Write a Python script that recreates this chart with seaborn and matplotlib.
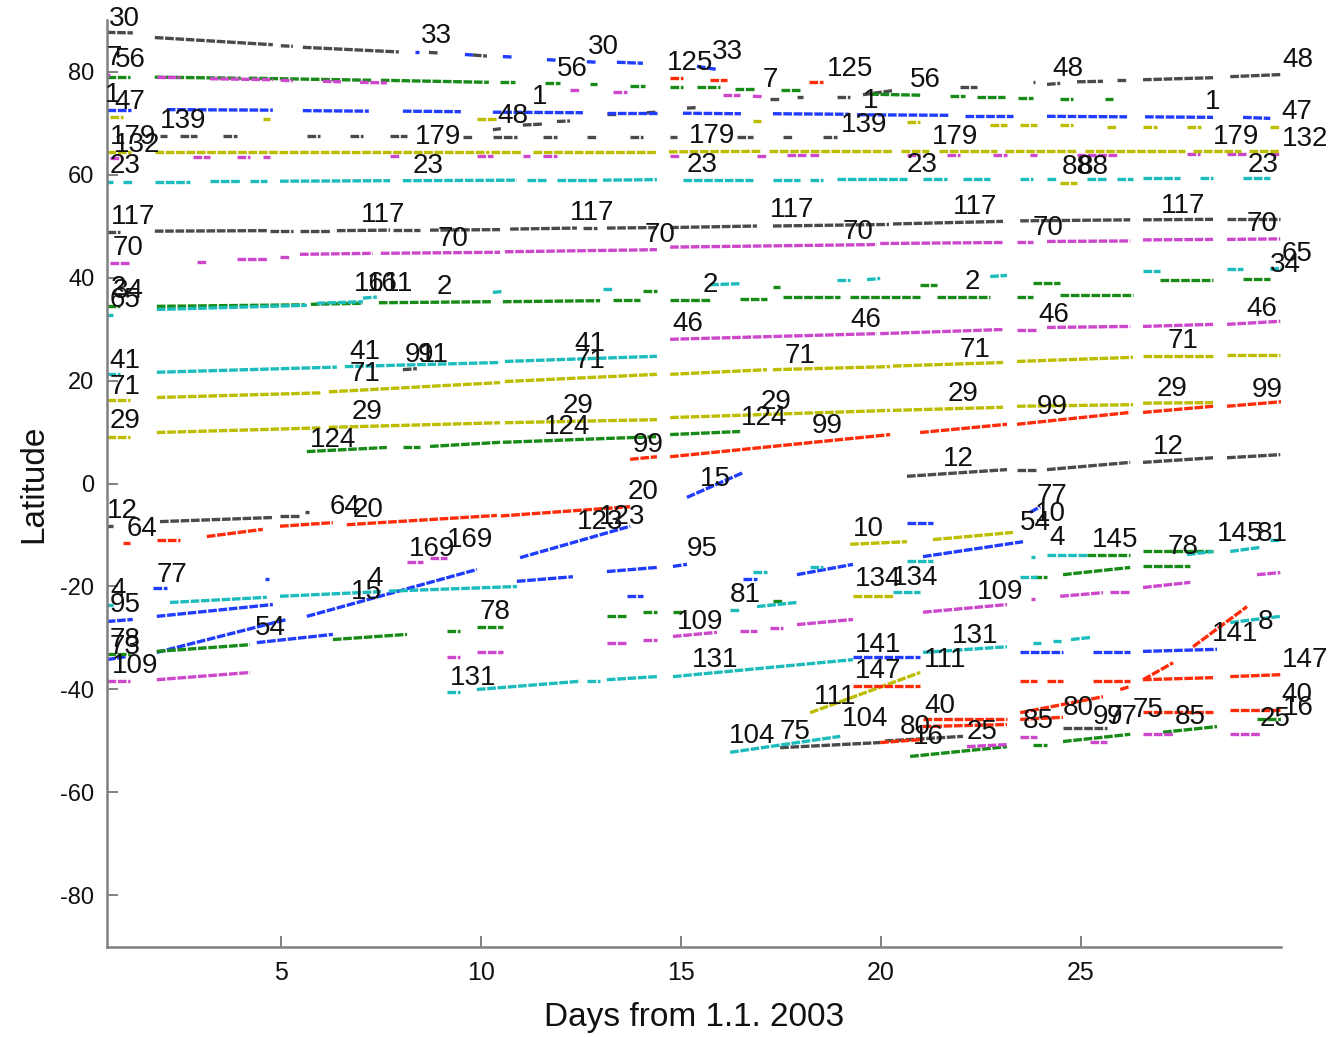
import matplotlib
matplotlib.use("Agg")
import matplotlib.pyplot as plt
import seaborn as sns
import pandas as pd

# ---------------- data: track pieces (day0, day1, lat0, lat1) per colour ----------------
GRAY_PIECES = [
    (0.65, 1.3, 87.6, 87.5), (1.85, 4.8, 86.6, 85.2), (5.0, 5.3, 85.0, 84.9), (5.55, 7.95, 84.7, 83.8),
    (8.7, 8.95, 83.7, 83.6), (9.8, 10.15, 83.2, 83.0),
    (17.23, 17.48, 74.6, 74.6), (17.9, 18.05, 75.0, 75.0), (18.9, 19.23, 75.1, 75.1), (19.55, 20.3, 75.5, 76.3),
    (21.98, 22.4, 76.9, 76.9),
    (23.8, 23.85, 77.9, 77.9), (24.15, 24.48, 77.5, 77.7), (24.9, 25.55, 78.0, 78.1), (25.9, 26.15, 78.4, 78.4),
    (26.55, 28.3, 78.4, 78.8), (28.73, 29.98, 79.0, 79.4),
    (10.3, 10.5, 68.7, 68.9), (11.05, 11.55, 69.6, 69.8), (11.9, 12.23, 70.3, 70.4), (13.15, 13.4, 71.7, 71.7),
    (14.15, 14.4, 72.0, 72.1), (15.15, 15.4, 72.9, 73.0),
    (1.98, 2.15, 67.4, 67.4), (2.48, 2.9, 67.4, 67.4), (3.55, 3.9, 67.4, 67.4), (5.65, 5.98, 67.4, 67.4),
    (6.73, 7.05, 67.4, 67.4), (7.73, 8.15, 67.4, 67.4), (9.55, 9.8, 67.3, 67.3), (10.3, 10.9, 67.3, 67.3),
    (11.55, 11.9, 67.3, 67.3), (12.65, 12.9, 67.3, 67.3), (13.73, 14.05, 67.3, 67.3), (14.73, 14.9, 67.2, 67.2),
    (16.4, 16.8, 67.2, 67.2), (17.55, 17.8, 67.2, 67.2), (18.55, 18.9, 67.2, 67.2),
    (0.65, 0.98, 48.9, 48.9), (1.85, 4.65, 49.0, 49.1), (4.73, 5.3, 49.1, 49.1), (5.48, 6.23, 49.1, 49.1),
    (6.4, 7.73, 49.1, 49.2), (7.8, 8.48, 49.2, 49.2), (8.73, 10.48, 49.2, 49.3), (10.73, 12.4, 49.4, 49.6),
    (12.55, 12.9, 49.6, 49.6), (13.15, 14.4, 49.6, 49.7), (14.73, 16.9, 49.7, 50.0), (17.3, 20.2, 50.0, 50.3),
    (20.3, 23.05, 50.4, 50.9), (23.48, 26.23, 51.0, 51.2), (26.55, 28.3, 51.2, 51.3), (28.65, 29.98, 51.3, 51.3),
    (20.65, 23.15, 1.4, 2.7), (23.4, 23.9, 2.7, 2.7), (24.15, 26.23, 2.7, 4.1), (26.55, 28.3, 4.1, 5.0),
    (28.65, 29.98, 5.0, 5.6),
    (0.65, 0.8, -8.3, -8.3), (1.98, 4.8, -7.4, -6.6), (4.98, 5.48, -6.4, -6.4), (5.6, 5.7, -5.6, -5.6),
    (17.48, 19.98, -51.3, -50.3), (20.1, 22.05, -50.0, -49.1),
    (24.55, 25.65, -47.4, -47.4), (8.05, 8.4, 22.1, 22.3),
]
BLUE_PIECES = [
    (8.35, 8.45, 83.7, 83.7), (9.6, 9.8, 83.3, 83.2), (10.55, 10.8, 82.9, 82.8), (11.65, 11.9, 82.3, 82.2),
    (12.65, 12.9, 81.9, 81.8), (13.4, 14.05, 81.8, 81.6), (15.4, 15.9, 81.0, 80.4),
    (0.65, 1.25, 72.6, 72.6), (2.15, 4.8, 72.6, 72.5), (5.55, 7.2, 72.4, 72.3), (8.05, 9.5, 72.3, 72.2),
    (10.3, 12.55, 72.1, 72.0), (13.15, 14.4, 72.0, 72.0), (15.05, 16.5, 71.9, 71.8), (17.3, 19.2, 71.8, 71.7),
    (19.4, 21.7, 71.6, 71.5), (22.1, 23.3, 71.4, 71.4), (24.15, 26.15, 71.3, 71.2), (26.6, 28.3, 71.2, 71.1),
    (29.05, 29.73, 71.1, 70.9),
    (0.65, 1.15, -34.2, -33.6), (1.9, 5.15, -32.8, -26.4), (5.65, 9.9, -25.8, -16.7), (10.98, 13.73, -14.4, -8.3),
    (4.4, 6.3, -30.9, -29.3),
    (0.65, 1.3, -26.8, -26.4), (1.9, 4.8, -25.8, -23.5), (10.9, 12.3, -19.0, -18.1), (13.15, 14.4, -17.1, -16.3),
    (14.8, 15.15, -16.1, -15.7), (4.6, 4.7, -18.6, -18.6), (1.8, 2.15, -20.2, -20.2),
    (15.15, 16.55, -2.7, 2.1), (13.65, 14.05, -21.9, -21.9),
    (16.55, 16.9, -18.6, -18.6), (17.9, 19.3, -17.7, -15.7), (21.05, 23.55, -14.2, -11.3),
    (20.65, 21.3, -7.6, -7.6), (23.73, 23.98, -5.6, -4.5),
    (19.3, 20.98, -33.6, -33.6), (23.48, 24.55, -32.8, -32.8), (25.3, 26.23, -32.8, -32.8), (26.55, 28.4, -32.6, -32.2),
]
GREEN_PIECES = [
    (0.65, 1.23, 79.0, 79.0), (1.85, 4.0, 78.9, 78.7), (4.2, 7.3, 78.7, 78.3), (7.5, 10.2, 78.3, 77.9),
    (10.48, 10.85, 77.9, 77.9), (11.6, 11.98, 77.7, 77.7), (12.73, 12.9, 77.5, 77.5), (13.73, 14.1, 77.2, 77.2),
    (14.73, 15.05, 77.0, 77.0), (15.4, 15.98, 76.9, 76.9), (16.35, 16.85, 76.7, 76.7), (17.5, 17.98, 76.5, 76.5),
    (19.73, 20.98, 75.6, 75.4), (21.73, 22.1, 75.2, 75.2), (22.4, 23.1, 75.0, 75.0), (23.43, 23.8, 74.9, 74.9),
    (24.48, 24.8, 74.7, 74.7), (25.6, 25.8, 74.6, 74.6),
    (0.65, 0.98, 34.4, 34.4), (1.9, 5.6, 34.4, 34.7), (5.75, 7.05, 34.8, 35.0), (7.45, 10.25, 35.1, 35.3),
    (10.55, 12.98, 35.3, 35.5), (13.3, 13.98, 35.7, 35.7), (14.05, 14.4, 37.3, 37.3), (14.73, 15.73, 35.7, 35.7),
    (16.48, 17.15, 35.9, 35.9), (17.3, 17.48, 38.1, 38.1), (17.55, 18.98, 36.3, 36.3), (19.23, 20.98, 36.3, 36.3),
    (20.98, 21.4, 38.6, 38.6), (21.4, 22.73, 36.3, 36.3), (23.4, 23.8, 36.3, 36.3), (23.8, 24.48, 39.0, 39.0),
    (24.48, 26.3, 36.7, 36.7), (26.98, 28.3, 39.6, 39.6), (29.05, 29.73, 39.8, 39.8),
    (5.65, 7.65, 6.2, 7.0), (8.05, 8.48, 7.0, 7.0), (8.73, 10.48, 7.2, 8.0), (10.55, 14.4, 8.0, 9.1),
    (14.73, 16.48, 9.5, 10.1),
    (0.65, 1.23, -33.2, -33.2), (1.9, 4.23, -32.6, -31.3), (6.3, 8.15, -30.3, -29.3), (9.15, 9.48, -28.7, -28.7),
    (9.9, 10.55, -27.8, -27.8), (13.15, 13.65, -25.8, -25.8), (14.05, 14.4, -25.0, -25.0), (14.8, 15.05, -24.9, -24.9),
    (17.3, 17.55, -22.9, -22.9), (23.8, 24.15, -18.1, -18.1), (24.55, 26.23, -17.7, -16.3), (26.55, 27.73, -16.1, -16.1),
    (25.15, 26.23, -13.8, -13.8), (26.55, 28.3, -13.2, -13.2),
    (20.73, 23.15, -53.0, -51.1), (23.8, 24.15, -50.7, -50.7), (24.55, 26.23, -50.1, -48.7), (27.05, 28.4, -48.3, -47.2),
    (29.4, 30.0, -45.8, -45.8),
]
MAGENTA_PIECES = [
    (0.65, 0.73, 79.4, 79.4), (1.9, 2.48, 79.0, 79.0), (3.23, 4.8, 78.6, 78.4), (5.0, 5.3, 78.3, 78.2),
    (6.05, 6.5, 78.1, 78.0), (6.98, 7.65, 77.9, 77.8), (12.23, 12.48, 76.5, 76.5), (13.3, 13.65, 76.1, 76.1),
    (16.05, 16.48, 75.5, 75.5), (16.8, 17.05, 75.2, 75.1),
    (0.73, 1.05, 63.3, 63.3), (2.8, 3.23, 63.4, 63.4), (3.9, 4.23, 63.4, 63.4), (4.55, 4.73, 63.4, 63.4),
    (7.73, 7.98, 63.5, 63.5), (9.9, 10.3, 63.5, 63.5), (11.05, 11.23, 63.5, 63.5), (11.55, 11.9, 63.6, 63.6),
    (14.73, 14.98, 63.6, 63.6), (16.9, 17.15, 63.6, 63.6), (17.65, 18.15, 63.7, 63.7), (18.23, 18.48, 63.7, 63.7),
    (20.65, 20.98, 63.7, 63.7), (21.65, 21.98, 63.8, 63.8), (22.8, 23.15, 63.8, 63.8), (23.73, 23.9, 63.8, 63.8),
    (24.9, 25.9, 63.8, 63.8), (27.65, 27.98, 63.9, 63.9), (28.65, 29.15, 63.9, 63.9), (29.73, 29.98, 63.9, 63.9),
    (0.73, 1.23, 42.9, 42.9), (2.9, 3.15, 43.1, 43.1), (3.9, 4.65, 43.5, 43.5), (4.98, 5.23, 43.9, 43.9),
    (5.48, 7.3, 44.5, 44.7), (7.5, 10.48, 44.7, 44.9), (10.6, 14.4, 45.0, 45.4), (14.73, 19.9, 45.9, 46.4),
    (19.98, 23.05, 46.6, 46.8), (23.4, 23.8, 46.8, 46.8), (24.15, 26.23, 47.0, 47.1), (26.55, 28.3, 47.3, 47.4),
    (28.65, 29.98, 47.4, 47.5),
    (14.73, 19.9, 28.0, 29.1), (19.98, 23.05, 29.1, 29.9), (23.4, 23.9, 29.9, 29.9), (24.15, 26.23, 30.3, 30.5),
    (26.55, 28.3, 30.5, 30.9), (28.65, 29.98, 30.9, 31.5),
    (0.65, 1.23, -38.4, -38.4), (1.9, 4.23, -38.1, -36.7), (9.15, 9.48, -33.6, -33.6), (9.9, 10.55, -32.8, -32.8),
    (13.15, 13.65, -30.9, -30.9), (14.05, 14.4, -30.3, -30.3), (14.8, 15.9, -29.7, -28.9), (16.48, 16.9, -28.7, -28.7),
    (17.23, 17.55, -28.0, -28.0), (17.9, 19.3, -27.4, -26.4), (21.05, 23.15, -25.0, -23.5), (23.75, 23.85, -22.5, -22.5),
    (24.48, 25.55, -21.9, -21.2), (25.73, 26.23, -21.0, -21.0), (26.55, 27.73, -20.2, -19.2), (29.4, 29.98, -17.7, -17.3),
    (8.15, 8.55, -15.3, -15.3), (8.73, 9.15, -14.4, -14.4),
    (22.15, 23.15, -51.1, -50.7), (23.48, 23.9, -49.3, -49.3), (25.23, 25.65, -50.1, -50.1), (26.55, 27.3, -48.7, -48.7),
    (28.73, 29.48, -48.7, -48.7),
]
YELLOW_PIECES = [
    (0.73, 1.05, 71.1, 71.1), (4.55, 4.73, 70.7, 70.7), (9.9, 10.4, 70.7, 70.7), (16.8, 17.0, 70.3, 70.3),
    (20.65, 20.98, 70.1, 70.1), (22.73, 23.15, 69.7, 69.7), (23.48, 23.9, 69.7, 69.7), (24.48, 24.8, 69.6, 69.6),
    (25.65, 25.9, 69.3, 69.3), (26.55, 26.9, 69.3, 69.3), (27.65, 28.0, 69.3, 69.3), (29.73, 29.98, 69.3, 69.3),
    (0.65, 1.25, 64.4, 64.4), (1.85, 10.2, 64.4, 64.4), (10.25, 11.0, 64.4, 64.4), (11.3, 14.4, 64.4, 64.4),
    (14.7, 17.0, 64.4, 64.5), (17.2, 20.3, 64.5, 64.5), (20.5, 21.2, 64.5, 64.5), (21.45, 22.9, 64.5, 64.5),
    (23.1, 24.9, 64.5, 64.5), (25.1, 27.6, 64.5, 64.5), (27.8, 29.0, 64.5, 64.5), (29.2, 29.98, 64.5, 64.5),
    (24.48, 24.9, 58.3, 58.3),
    (0.65, 1.23, 16.3, 16.3), (1.9, 6.0, 16.7, 17.6), (6.2, 10.48, 17.8, 19.6), (10.6, 14.4, 19.8, 21.2),
    (14.73, 17.15, 21.2, 22.1), (17.3, 20.23, 22.1, 22.7), (20.3, 23.05, 22.8, 23.5), (23.4, 26.3, 23.7, 24.5),
    (26.55, 28.3, 24.7, 24.7), (28.65, 29.98, 25.0, 25.0),
    (0.65, 1.23, 9.1, 9.1), (1.9, 6.0, 9.9, 10.8), (6.2, 10.48, 10.9, 11.8), (10.6, 14.4, 11.8, 12.4),
    (14.73, 20.23, 12.8, 14.2), (20.3, 23.05, 14.2, 14.8), (23.4, 26.3, 15.0, 15.3), (26.55, 28.3, 15.6, 15.7),
    (18.23, 20.98, -44.5, -36.7),
    (19.23, 20.65, -11.8, -11.3), (21.3, 23.3, -10.9, -9.5), (19.3, 20.3, -21.9, -21.9),
]
CYAN_PIECES = [
    (0.65, 0.8, 58.6, 58.6), (1.05, 1.3, 58.6, 58.6), (1.85, 2.73, 58.6, 58.6), (3.23, 3.98, 58.7, 58.7),
    (4.23, 4.65, 58.7, 58.7), (4.98, 7.73, 58.7, 58.8), (8.05, 10.9, 58.8, 58.9), (11.15, 11.65, 58.9, 58.9),
    (11.9, 12.9, 58.9, 58.9), (13.05, 14.4, 58.9, 59.0), (15.05, 16.8, 59.0, 59.0), (17.3, 17.98, 59.0, 59.0),
    (18.23, 18.55, 59.0, 59.0), (18.9, 20.65, 59.1, 59.1), (21.05, 21.65, 59.1, 59.1), (22.05, 22.73, 59.1, 59.1),
    (23.48, 23.8, 59.2, 59.2), (24.15, 24.4, 59.2, 59.2), (25.15, 25.65, 59.2, 59.2), (25.9, 26.3, 59.2, 59.2),
    (26.55, 27.48, 59.3, 59.3), (27.98, 28.3, 59.3, 59.3), (29.05, 29.73, 59.3, 59.3),
    (0.65, 0.8, 32.8, 32.8), (1.9, 5.65, 33.8, 34.6), (5.9, 7.05, 35.0, 35.3), (7.05, 7.4, 36.0, 36.2),
    (10.3, 10.55, 37.1, 37.3), (13.05, 13.3, 37.7, 37.7), (15.73, 16.48, 38.6, 38.8), (18.9, 19.23, 39.6, 39.6),
    (19.65, 19.98, 39.6, 39.8), (22.73, 23.15, 40.2, 40.4), (26.55, 26.98, 41.2, 41.2), (28.65, 29.05, 41.6, 41.6),
    (29.73, 30.05, 41.6, 41.8),
    (0.65, 0.98, 21.2, 21.2), (1.9, 6.4, 21.6, 22.6), (6.6, 10.48, 22.7, 23.5), (10.6, 14.4, 23.7, 24.7),
    (0.65, 0.8, -23.5, -23.5), (2.23, 4.65, -23.1, -22.1), (4.98, 7.5, -21.9, -21.0), (7.7, 10.9, -20.9, -20.0),
    (9.15, 9.48, -40.4, -40.4), (9.9, 12.48, -40.0, -38.4), (12.65, 12.98, -38.4, -38.4), (13.15, 14.4, -38.1, -37.5),
    (14.8, 19.3, -37.5, -34.2), (21.05, 23.15, -32.8, -31.7), (23.8, 24.0, -30.9, -30.9), (24.3, 24.5, -30.5, -30.5),
    (24.75, 25.23, -30.3, -29.9),
    (28.73, 29.98, -27.0, -25.8), (16.23, 18.98, -52.2, -49.1),
    (23.75, 23.85, -14.2, -14.2), (24.15, 25.15, -13.8, -13.8), (27.65, 28.3, -13.8, -13.2), (28.73, 29.48, -13.2, -12.4),
    (29.73, 30.05, -10.9, -10.9), (23.48, 23.9, -18.1, -18.1),
    (20.3, 20.98, -21.0, -21.0), (20.65, 21.3, -15.1, -15.1),
    (16.23, 16.48, -24.5, -24.5), (16.9, 17.9, -23.9, -23.1), (16.8, 17.15, -17.1, -17.1), (18.23, 18.55, -16.3, -16.3),
]
RED_PIECES = [
    (14.73, 15.05, 78.8, 78.8), (15.73, 16.15, 78.3, 78.3), (18.2, 18.55, 77.9, 77.9),
    (13.73, 14.4, 4.7, 5.2), (14.73, 20.23, 5.2, 9.5), (20.98, 23.15, 9.9, 11.5), (23.4, 26.23, 11.5, 13.8),
    (26.55, 28.3, 13.8, 15.0), (28.65, 30.05, 15.0, 15.9),
    (1.05, 1.23, -11.5, -11.5), (1.9, 2.48, -10.9, -10.9), (3.15, 4.55, -10.3, -8.9), (4.98, 6.3, -8.3, -7.6),
    (6.65, 10.4, -8.0, -6.2), (10.5, 13.73, -6.3, -4.5),
    (19.3, 20.98, -39.4, -39.4), (23.48, 23.9, -38.4, -38.4), (24.15, 24.55, -38.4, -38.4), (25.3, 26.23, -38.4, -38.4),
    (26.55, 28.3, -38.1, -37.7), (28.73, 30.05, -37.5, -37.1),
    (25.98, 26.23, -40.0, -39.4), (26.55, 27.3, -38.1, -34.8), (27.8, 29.15, -31.7, -23.9),
    (21.05, 23.15, -45.8, -45.8), (23.48, 24.55, -45.8, -45.4), (26.55, 28.3, -44.3, -44.3), (28.73, 30.05, -43.9, -43.9),
    (19.98, 21.05, -50.3, -49.7), (21.05, 23.15, -47.2, -46.8), (23.48, 25.55, -44.5, -41.4),
]

# ---------------- data: track-number labels (text, day, latitude) ----------------
LABELS = [
    ("30", 1.1, 90.1), ("7", 0.83, 82.7), ("56", 1.23, 82.3), ("1", 0.8, 75.5), ("47", 1.23, 74.0),
    ("139", 2.55, 70.3), ("179", 1.3, 67.2), ("132", 1.4, 65.8), ("23", 1.1, 61.6),
    ("33", 8.9, 86.8), ("179", 8.93, 67.2), ("23", 8.68, 61.6), ("56", 12.28, 80.4), ("30", 13.05, 84.7),
    ("1", 11.48, 75.0), ("48", 10.8, 71.3), ("125", 15.23, 81.7), ("33", 16.15, 83.7), ("7", 17.23, 78.4),
    ("125", 19.23, 80.4), ("56", 21.1, 78.4), ("1", 19.73, 74.2), ("139", 19.58, 69.7), ("179", 15.78, 67.4),
    ("23", 15.53, 61.9), ("179", 21.85, 67.2), ("23", 21.03, 61.9), ("48", 24.68, 80.4), ("1", 28.3, 74.0),
    ("48", 30.43, 82.3), ("47", 30.4, 72.2), ("179", 28.88, 67.2), ("132", 30.6, 66.8), ("23", 29.55, 61.9),
    ("88", 24.9, 61.4), ("88", 25.3, 61.4),
    ("117", 1.3, 51.7), ("117", 7.55, 52.2), ("117", 12.78, 52.6), ("117", 17.78, 53.2), ("117", 22.35, 53.6),
    ("117", 27.55, 53.8),
    ("70", 1.18, 45.8), ("70", 9.3, 47.4), ("70", 14.48, 48.2), ("70", 19.43, 48.9), ("70", 24.18, 49.7),
    ("70", 29.53, 50.3),
    ("2", 0.93, 37.9), ("34", 1.18, 37.3), ("65", 1.1, 35.7), ("161", 7.4, 38.8), ("161", 7.73, 38.8),
    ("2", 9.08, 38.1), ("2", 15.73, 38.6), ("2", 22.28, 39.2), ("65", 30.4, 44.5), ("34", 30.1, 42.5),
    ("46", 15.18, 30.9), ("46", 19.63, 31.8), ("46", 24.33, 32.8), ("46", 29.53, 33.8),
    ("41", 1.1, 23.7), ("41", 7.1, 25.6), ("41", 12.73, 27.0),
    ("71", 1.1, 18.8), ("71", 7.1, 21.2), ("71", 12.73, 23.7), ("71", 17.98, 24.7), ("71", 22.35, 26.0),
    ("71", 27.55, 27.6), ("91", 8.48, 25.0), ("91", 8.8, 25.0),
    ("29", 1.1, 12.2), ("29", 7.15, 13.8), ("29", 12.43, 15.0), ("29", 17.38, 15.9), ("29", 22.05, 17.3),
    ("29", 27.28, 18.3),
    ("124", 6.3, 8.5), ("124", 12.15, 10.9), ("124", 17.08, 12.8),
    ("99", 14.18, 7.4), ("99", 18.65, 11.1), ("99", 24.28, 14.8), ("99", 29.65, 18.1),
    ("12", 21.93, 4.7), ("12", 27.18, 7.0), ("15", 15.85, 0.8),
    ("12", 1.05, -5.4), ("64", 1.53, -8.9), ("64", 6.6, -4.5), ("20", 7.18, -5.2), ("20", 14.05, -1.6),
    ("123", 12.98, -7.4), ("123", 13.53, -6.6), ("169", 8.78, -12.8), ("169", 9.73, -10.9),
    ("77", 2.28, -17.7), ("4", 0.93, -20.6), ("95", 1.1, -23.5), ("4", 7.35, -18.6), ("15", 7.15, -21.0),
    ("95", 15.53, -12.8), ("78", 1.1, -30.3), ("73", 1.1, -31.8), ("109", 1.35, -35.5), ("54", 4.73, -28.0),
    ("78", 10.35, -25.0), ("131", 9.8, -37.7), ("109", 15.48, -26.8), ("81", 16.6, -21.7), ("131", 15.85, -34.2),
    ("10", 19.68, -8.9), ("134", 19.93, -18.6), ("134", 20.85, -18.3), ("109", 22.98, -21.0),
    ("141", 19.93, -31.3), ("147", 19.93, -36.5), ("131", 22.35, -29.7), ("111", 21.6, -34.2),
    ("111", 18.85, -41.4), ("104", 19.6, -45.8), ("104", 16.78, -49.1), ("75", 17.85, -48.3),
    ("40", 21.48, -43.3), ("80", 20.85, -47.2), ("16", 21.18, -49.3), ("25", 22.53, -48.3), ("85", 23.93, -46.2),
    ("80", 24.93, -43.5), ("97", 25.68, -45.4), ("97", 26.03, -45.4), ("75", 26.68, -43.9), ("85", 27.73, -45.4),
    ("77", 24.28, -2.5), ("10", 24.23, -6.0), ("54", 23.85, -7.6), ("4", 24.4, -10.5), ("145", 25.85, -10.9),
    ("78", 27.55, -12.4), ("145", 28.98, -9.9), ("81", 29.78, -9.9), ("8", 29.6, -26.8), ("141", 28.85, -29.3),
    ("147", 30.6, -34.2), ("40", 30.4, -41.0), ("16", 30.43, -43.5), ("25", 29.85, -45.8),
]

X_TICKS = [5, 10, 15, 20, 25]
Y_TICKS = [-80, -60, -40, -20, 0, 20, 40, 60, 80]

COLORS = {
    "gray": "#4a4a4a", "blue": "#1f3cff", "green": "#178a17", "magenta": "#cc47cc",
    "yellow": "#bdbd00", "cyan": "#1cbcbc", "red": "#ff2c0a",
}
PIECES = {
    "gray": GRAY_PIECES, "blue": BLUE_PIECES, "green": GREEN_PIECES, "magenta": MAGENTA_PIECES,
    "yellow": YELLOW_PIECES, "cyan": CYAN_PIECES, "red": RED_PIECES,
}

# ---------------- build long table ----------------
rows = []
pid = 0
for cname, plist in PIECES.items():
    for (x0, x1, y0, y1) in plist:
        rows.append((cname, pid, x0, y0))
        rows.append((cname, pid, x1, y1))
        pid += 1
df = pd.DataFrame(rows, columns=["colour", "piece", "day", "lat"])

# ---------------- draw ----------------
sns.set_theme(style="ticks")
plt.rcParams["font.family"] = ["Liberation Sans", "DejaVu Sans"]

fig = plt.figure(figsize=(13.35, 10.37), dpi=100)
ax = fig.add_axes([0.080, 0.0868, 0.8796, 0.8939])

for cname in PIECES:
    sub = df[df["colour"] == cname]
    sns.lineplot(data=sub, x="day", y="lat", units="piece", estimator=None, sort=False,
                 color=COLORS[cname], linewidth=2.4, linestyle=(0, (2.6, 0.5)),
                 legend=False, ax=ax)

for txt, d, la in LABELS:
    ax.text(d, la, txt, fontsize=20, color="#111111", ha="center", va="center", zorder=5)

ax.set_xlim(0.65, 30)
ax.set_ylim(-90, 90)
ax.set_xticks(X_TICKS)
ax.set_yticks(Y_TICKS)
ax.set_xticklabels([str(v) for v in X_TICKS])
ax.set_yticklabels([str(v) for v in Y_TICKS])
ax.tick_params(axis="x", labelsize=18, pad=10)
ax.tick_params(axis="y", labelsize=17, pad=9)
ax.tick_params(direction="in", length=8, width=1.4, color="#808080", labelcolor="#111111")
for side in ["top", "right"]:
    ax.spines[side].set_visible(False)
for side in ["left", "bottom"]:
    ax.spines[side].set_color("#808080")
    ax.spines[side].set_linewidth(1.8)
ax.set_xlabel("Days from 1.1. 2003", fontsize=24, labelpad=12, color="#111111")
ax.set_ylabel("Latitude", fontsize=24, labelpad=8, color="#111111")

fig.savefig("out.png", dpi=100)
